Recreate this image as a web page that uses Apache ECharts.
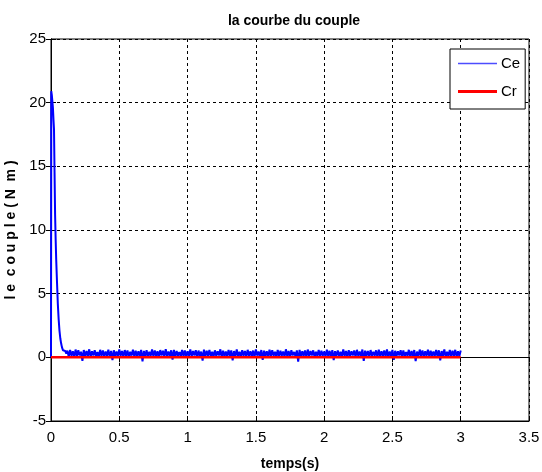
<!DOCTYPE html>
<html>
<head>
<meta charset="utf-8">
<script src="https://cdn.jsdelivr.net/npm/echarts@6/dist/echarts.min.js"></script>
<style>
  html, body { margin: 0; padding: 0; background: #fff; }
  #chart { width: 542px; height: 472px; }
</style>
</head>
<body>
<div id="chart"></div>
<script>
// start-up transient of Ce, [t, value]
var ceStart = [
  [0, 0], [0.002, 20.9], [0.006, 20.6], [0.010, 20.1], [0.014, 19.6], [0.018, 18.7],
  [0.022, 17.9], [0.026, 14.5], [0.030, 11.2], [0.034, 9.3], [0.038, 7.7], [0.044, 5.9],
  [0.050, 4.2], [0.056, 3.0], [0.062, 2.1], [0.068, 1.5], [0.074, 1.1], [0.080, 0.8],
  [0.088, 0.55], [0.096, 0.4], [0.104, 0.5], [0.112, 0.3]
]
// steady state ripple of Ce, one sample every 0.01 s from t = 0.12
var noiseStart = 0.12
var noiseStep = 0.01
var ceRipple = [
  0.52,0.04,0.58,0.12,0.47,0.02,0.61,0.08,0.55,0.15,0.44,-0.28,0.57,0.06,0.50,0.10,0.63,0.03,0.48,0.14,
  0.56,0.07,0.42,0.01,0.59,0.11,0.53,0.05,0.46,0.13,0.60,0.02,0.51,-0.22,0.55,0.09,0.45,0.06,0.62,0.12,
  0.49,0.03,0.57,0.10,0.54,0.00,0.43,0.14,0.60,0.07,0.52,0.05,0.47,0.11,0.58,-0.31,0.50,0.08,0.56,0.02,
  0.44,0.12,0.61,0.06,0.53,0.09,0.48,0.01,0.57,0.15,0.51,0.04,0.64,0.10,0.46,0.07,0.55,-0.18,0.59,0.03,
  0.50,0.13,0.42,0.05,0.58,0.08,0.54,0.02,0.47,0.11,0.62,0.06,0.49,0.14,0.56,0.00,0.53,0.09,0.45,-0.26,
  0.60,0.04,0.51,0.12,0.57,0.07,0.44,0.03,0.55,0.10,0.48,0.15,0.63,0.01,0.52,0.08,0.46,0.05,0.58,0.13,
  0.54,-0.24,0.49,0.06,0.61,0.09,0.43,0.02,0.56,0.12,0.50,0.04,0.59,0.11,0.47,0.07,0.53,0.00,0.62,0.14,
  0.45,0.05,0.57,-0.20,0.52,0.10,0.48,0.03,0.60,0.08,0.55,0.13,0.44,0.01,0.58,0.06,0.51,0.12,0.46,0.04,
  0.63,0.09,0.50,0.02,0.56,0.15,0.42,0.07,0.54,-0.33,0.59,0.05,0.47,0.11,0.53,0.03,0.61,0.08,0.49,0.14,
  0.55,0.01,0.44,0.10,0.58,0.06,0.52,0.12,0.46,0.04,0.60,0.09,0.51,0.02,0.57,-0.21,0.48,0.13,0.54,0.07,
  0.43,0.05,0.62,0.11,0.50,0.00,0.56,0.08,0.47,0.14,0.53,0.03,0.59,0.10,0.45,0.06,0.61,-0.27,0.52,0.12,
  0.49,0.04,0.57,0.09,0.44,0.13,0.55,0.02,0.60,0.07,0.48,0.11,0.54,0.05,0.63,0.01,0.46,0.10,0.58,-0.19,
  0.51,0.08,0.47,0.14,0.56,0.03,0.53,0.06,0.42,0.12,0.59,0.00,0.50,0.09,0.57,-0.29,0.45,0.05,0.61,0.11,
  0.54,0.02,0.48,0.13,0.60,0.07,0.52,0.04,0.46,0.10,0.58,0.06,0.55,-0.23,0.49,0.12,0.62,0.01,0.44,0.08,
  0.57,0.05,0.51,0.11,0.59,0.03,0.47,0.09,0.53
]
// load torque Cr
var crData = [[0, 0], [3, 0]]

var xTicks = { min: 0, max: 3.5, interval: 0.5 }
var yTicks = { min: -5, max: 25, interval: 5 }

var ceData = ceStart.slice()
ceRipple.forEach(function (v, i) {
  ceData.push([+(noiseStart + i * noiseStep).toFixed(3), v])
})

var font = '"Liberation Sans", Arial, sans-serif'
var gridLine = { show: true, lineStyle: { color: '#000', type: [3, 3], width: 1 } }

var option = {
  animation: false,
  backgroundColor: '#fff',
  title: {
    text: 'la courbe du couple',
    left: 289,
    top: 9,
    textAlign: 'center',
    textStyle: { fontFamily: font, fontWeight: 'bold', fontSize: 14, color: '#000' }
  },
  legend: {
    data: [
      { name: 'Ce', icon: 'path://M0,0H39V1.5H0Z', itemStyle: { color: '#4d4dff', borderWidth: 0 } },
      { name: 'Cr', icon: 'path://M0,0H39V3H0Z', itemStyle: { color: '#ff0000', borderWidth: 0 } }
    ],
    orient: 'vertical',
    left: 450,
    top: 49,
    width: 73,
    padding: [7, 5, 10, 8],
    itemWidth: 39,
    itemHeight: 14,
    itemGap: 13,
    symbolKeepAspect: true,
    backgroundColor: '#fff',
    borderColor: '#000',
    borderWidth: 1,
    borderRadius: 0,
    textStyle: { fontFamily: font, fontSize: 15, color: '#000', padding: [0, 0, 0, -1] }
  },
  grid: {
    left: 51, right: 13, top: 39, bottom: 51,
    outerBoundsMode: 'none',
    show: true, borderColor: '#000', borderWidth: 1, backgroundColor: 'transparent'
  },
  xAxis: [{
    type: 'value',
    min: xTicks.min, max: xTicks.max, interval: xTicks.interval,
    name: 'temps(s)',
    nameLocation: 'middle',
    nameGap: 36,
    nameTextStyle: { fontFamily: font, fontWeight: 'bold', fontSize: 14, color: '#000' },
    axisLine: { show: true, onZero: false, lineStyle: { color: '#000' } },
    axisTick: { show: true, inside: true, length: 5, lineStyle: { color: '#000' } },
    axisLabel: { fontFamily: font, fontSize: 15, color: '#000', margin: 9 },
    splitLine: gridLine
  }, {
    type: 'value', position: 'top',
    min: xTicks.min, max: xTicks.max, interval: xTicks.interval,
    axisLine: { show: true, lineStyle: { color: '#000' } },
    axisTick: { show: true, inside: true, length: 5, lineStyle: { color: '#000' } },
    axisLabel: { show: false },
    splitLine: { show: false }
  }],
  yAxis: [{
    type: 'value',
    min: yTicks.min, max: yTicks.max, interval: yTicks.interval,
    name: 'l e  c o u p l e ( N  m )',
    nameLocation: 'middle',
    nameGap: 23,
    nameTextStyle: { fontFamily: font, fontWeight: 'bold', fontSize: 14, color: '#000' },
    axisLine: { show: true, onZero: false, lineStyle: { color: '#000' } },
    axisTick: { show: true, inside: true, length: 5, lineStyle: { color: '#000' } },
    axisLabel: { fontFamily: font, fontSize: 15, color: '#000', margin: 5 },
    splitLine: gridLine
  }, {
    type: 'value', position: 'right',
    min: yTicks.min, max: yTicks.max, interval: yTicks.interval,
    axisLine: { show: true, lineStyle: { color: '#000' } },
    axisTick: { show: true, inside: true, length: 5, lineStyle: { color: '#000' } },
    axisLabel: { show: false },
    splitLine: { show: false }
  }],
  series: [{
    name: 'Ce',
    type: 'line',
    symbol: 'none',
    data: ceData,
    lineStyle: { color: '#0000ff', width: 2 },
    itemStyle: { color: '#0000ff' },
    z: 3
  }, {
    name: 'Cr',
    type: 'line',
    symbol: 'none',
    data: crData,
    lineStyle: { color: '#ff0000', width: 2.5 },
    itemStyle: { color: '#ff0000' },
    z: 4
  }]
}

var myChart = echarts.init(document.getElementById('chart'), null, { renderer: 'canvas' })
myChart.setOption(option)
</script>
</body>
</html>
